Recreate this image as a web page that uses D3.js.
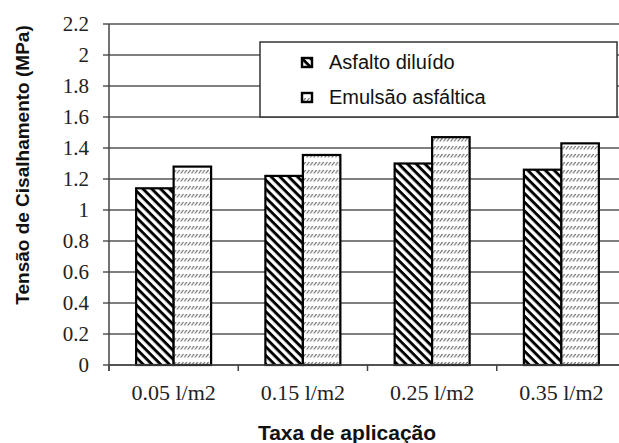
<!DOCTYPE html>
<html><head><meta charset="utf-8">
<script src="https://cdn.jsdelivr.net/npm/d3@7/dist/d3.min.js"></script>
<style>body{margin:0;background:#fff}svg{display:block}</style>
</head><body>
<script>
const categories = ["0.05 l/m2", "0.15 l/m2", "0.25 l/m2", "0.35 l/m2"];
const seriesNames = ["Asfalto diluído", "Emulsão asfáltica"];
const asfaltoDiluido = [1.14, 1.22, 1.30, 1.26];
const emulsaoAsfaltica = [1.28, 1.355, 1.47, 1.43];
const yTicks = [0, 0.2, 0.4, 0.6, 0.8, 1, 1.2, 1.4, 1.6, 1.8, 2, 2.2];
const xTitle = "Taxa de aplicação";
const yTitle = "Tensão de Cisalhamento (MPa)";

const W = 619, H = 443;
const svg = d3.select("body").append("svg").attr("width", W).attr("height", H);
const defs = svg.append("defs");

// hatch patterns
const p1 = defs.append("pattern").attr("id","hatchA").attr("patternUnits","userSpaceOnUse")
  .attr("width",6.2).attr("height",6.2).attr("patternTransform","rotate(45)");
p1.append("rect").attr("width",6.2).attr("height",6.2).attr("fill","#fff");
p1.append("rect").attr("x",0).attr("y",0).attr("width",6.2).attr("height",2.9).attr("fill","#000");

const p2 = defs.append("pattern").attr("id","hatchB").attr("patternUnits","userSpaceOnUse")
  .attr("width",3.6).attr("height",8);
p2.append("rect").attr("width",3.6).attr("height",8).attr("fill","#fff");
p2.append("line").attr("x1",0.6).attr("y1",5.5).attr("x2",3.2).attr("y2",2).attr("stroke","#6a6a6a").attr("stroke-width",1.1);

const m = {left:109, right:626, top:24, bottom:365};
const x = d3.scaleBand().domain(categories).range([m.left, m.right]).paddingInner(0.42).paddingOuter(0.21);
const y = d3.scaleLinear().domain([0, 2.2]).range([m.bottom, m.top]);
const xs = d3.scaleBand().domain([0,1]).range([0, x.bandwidth()]);

// gridlines
svg.append("g").selectAll("line").data(yTicks).join("line")
  .attr("x1", m.left - 6).attr("x2", W).attr("y1", d=>y(d)).attr("y2", d=>y(d))
  .attr("stroke","#555").attr("stroke-width",1.5);

// y tick labels
svg.append("g").selectAll("text").data(yTicks).join("text")
  .attr("x", m.left - 20).attr("y", d=>y(d)).attr("dy","0.35em")
  .attr("text-anchor","end").attr("font-family","Liberation Serif, serif")
  .attr("font-size",21).attr("fill","#222")
  .text(d=>d);

// bars
const data = [asfaltoDiluido, emulsaoAsfaltica];
const fills = ["url(#hatchA)","url(#hatchB)"];
categories.forEach((c,i)=>{
  data.forEach((s,j)=>{
    svg.append("rect").attr("x", x(c)+xs(j)).attr("width", xs.bandwidth())
      .attr("y", y(s[i])).attr("height", y(0)-y(s[i]))
      .attr("fill", fills[j]).attr("stroke","#000").attr("stroke-width",2.2);
  });
});

// axes lines
svg.append("line").attr("x1",m.left).attr("x2",m.left).attr("y1",m.top).attr("y2",m.bottom+6).attr("stroke","#444").attr("stroke-width",1.5);
svg.append("line").attr("x1",m.left).attr("x2",W).attr("y1",m.bottom).attr("y2",m.bottom).attr("stroke","#444").attr("stroke-width",1.5);
const step = x.step();
svg.append("g").selectAll("line").data(categories).join("line")
  .attr("x1", d=>x(d)-x.paddingInner()*step/2).attr("x2", d=>x(d)-x.paddingInner()*step/2)
  .attr("y1", m.bottom).attr("y2", m.bottom+6).attr("stroke","#444").attr("stroke-width",1.5);

// category labels
svg.append("g").selectAll("text").data(categories).join("text")
  .attr("x", d=>x(d)+x.bandwidth()/2).attr("y", 392).attr("dy","0.35em")
  .attr("text-anchor","middle")
  .attr("font-family","Liberation Serif, serif")
  .attr("font-size",22).attr("fill","#222").text(d=>d);

// titles
svg.append("text").attr("x",347).attr("y",433).attr("dy","0.35em").attr("text-anchor","middle")
  .attr("font-family","Liberation Sans, Arial, sans-serif").attr("font-weight","bold").attr("font-size",21).attr("fill","#111").text(xTitle);
svg.append("text").attr("transform","translate(22,165) rotate(-90)").attr("dy","0.35em").attr("text-anchor","middle")
  .attr("font-family","Liberation Sans, Arial, sans-serif").attr("font-weight","bold").attr("font-size",19).attr("fill","#111").text(yTitle);

// legend
const lg = svg.append("g");
lg.append("rect").attr("x",260).attr("y",42).attr("width",357).attr("height",75).attr("fill","#fff").attr("stroke","#333").attr("stroke-width",1.5);
seriesNames.forEach((n,j)=>{
  const cy = j===0 ? 62 : 97;
  lg.append("rect").attr("x",302).attr("y",cy-4).attr("width",10).attr("height",9)
    .attr("fill", fills[j]).attr("stroke","#000").attr("stroke-width",2.4);
  lg.append("text").attr("x",329).attr("y",cy).attr("dy","0.35em")
    .attr("font-family","Liberation Sans, Arial, sans-serif").attr("font-size",20).attr("fill","#111").text(n);
});
</script>
</body></html>
